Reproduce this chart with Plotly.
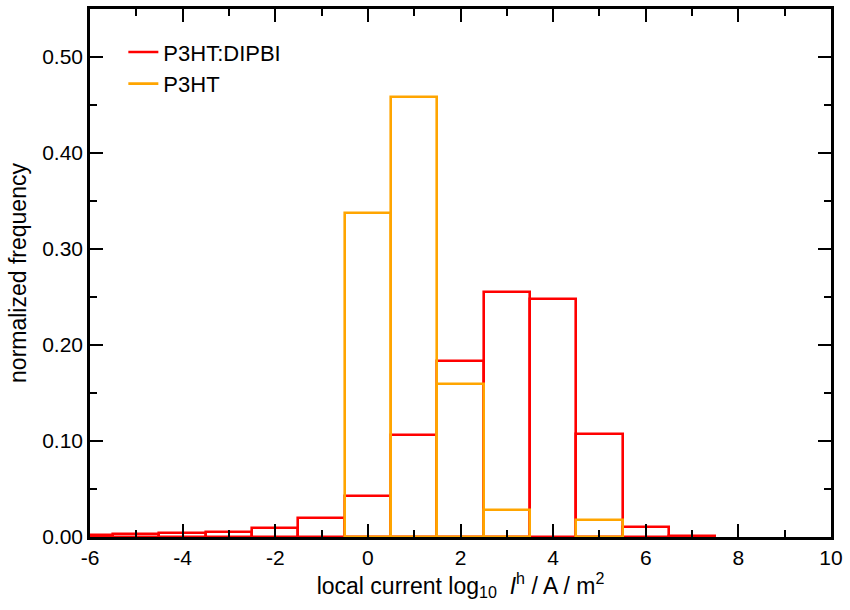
import plotly.graph_objects as go

bin_centers = [-6, -5, -4, -3, -2, -1, 0, 1, 2, 3, 4, 5, 6, 7]
p3ht_dipbi = [0.002, 0.003, 0.004, 0.005, 0.0095, 0.020, 0.0425, 0.106, 0.183, 0.255, 0.248, 0.107, 0.0105, 0.001]
p3ht_centers = [0, 1, 2, 3, 4, 5]
p3ht = [0.337, 0.458, 0.159, 0.028, 0.0, 0.018]
x_tick_vals = [-6, -4, -2, 0, 2, 4, 6, 8, 10]
x_tick_labels = ["-6", "-4", "-2", "0", "2", "4", "6", "8", "10"]

RED = "#ff0000"
ORANGE = "#ffa500"
FONT = "Liberation Sans, Arial, sans-serif"


def nz(xs, ys):
    pairs = [(x, y) for x, y in zip(xs, ys) if y > 0]
    return [p[0] for p in pairs], [p[1] for p in pairs]


fig = go.Figure()
for name, xs, ys, col in [("P3HT:DIPBI", bin_centers, p3ht_dipbi, RED),
                          ("P3HT", p3ht_centers, p3ht, ORANGE)]:
    bx, by = nz(xs, ys)
    fig.add_trace(go.Bar(x=bx, y=by, width=1.0, name=name, showlegend=False,
                         marker=dict(color="rgba(0,0,0,0)", line=dict(color=col, width=2.6))))

for name, col in [("P3HT:DIPBI", RED), ("P3HT", ORANGE)]:
    fig.add_trace(go.Scatter(x=[None], y=[None], mode="lines", name=name,
                             line=dict(color=col, width=2.6)))

axis_common = dict(showline=True, linecolor="black", linewidth=2.5, mirror="allticks",
                   ticks="inside", tickcolor="black", tickwidth=2, ticklen=13,
                   showgrid=False, zeroline=False,
                   tickfont=dict(family=FONT, size=21, color="black"))

fig.update_xaxes(range=[-6, 10], tickvals=x_tick_vals, ticktext=x_tick_labels,
                 minor=dict(dtick=1, tick0=0, ticks="inside", ticklen=7, tickwidth=2, tickcolor="black", showgrid=False),
                 title=dict(text="local current log<sub>10</sub>  <i>I</i><sup>h</sup> / A / m<sup>2</sup>",
                            font=dict(family=FONT, size=23, color="black"), standoff=2),
                 **axis_common)
fig.update_yaxes(range=[0, 0.55], dtick=0.1, tick0=0, tickformat=".2f",
                 minor=dict(dtick=0.05, ticks="inside", ticklen=7, tickwidth=2, tickcolor="black", showgrid=False),
                 title=dict(text="normalized frequency",
                            font=dict(family=FONT, size=23, color="black"), standoff=10),
                 **axis_common)

fig.update_layout(
    width=850, height=610,
    margin=dict(l=90, r=19, t=6, b=73),
    paper_bgcolor="white", plot_bgcolor="white",
    barmode="overlay", bargap=0,
    font=dict(family=FONT, size=21, color="black"),
    legend=dict(x=0.045, y=0.958, xanchor="left", yanchor="top",
                bgcolor="rgba(0,0,0,0)",
                font=dict(family=FONT, size=22, color="black")),
)

fig.write_html("out.html", config={"displayModeBar": False},
               post_script="document.body.style.margin='0';")
